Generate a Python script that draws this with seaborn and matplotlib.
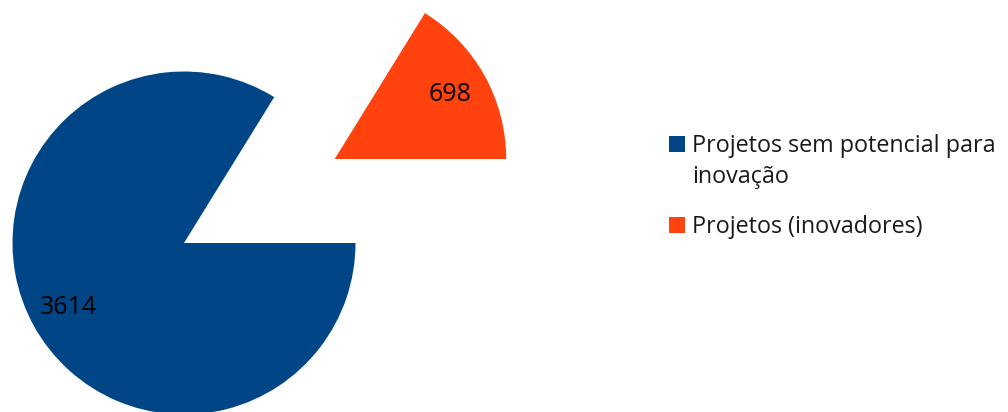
import matplotlib
matplotlib.use("Agg")
import matplotlib.pyplot as plt
from matplotlib.patches import Rectangle
import seaborn as sns

# Data
categories = ["Projetos (inovadores)", "Projetos sem potencial para\ninovação"]
values = [698, 3614]
colors = ["#ff420e", "#004586"]
legend_order = [1, 0]

sns.set_theme(style="white")
plt.rcParams["font.family"] = ["Open Sans", "DejaVu Sans"]

W, H, DPI = 1008, 412, 100
fig = plt.figure(figsize=(W / DPI, H / DPI), dpi=DPI)
ax = fig.add_axes([0, 0, 1, 1])

# pie geometry in pixels
R = 171.5
cx, cy = 184, 243  # centre of the unexploded slice (from top-left)

total = sum(values)
wedges, texts, autotexts = ax.pie(
    values,
    colors=colors,
    startangle=0,
    counterclock=True,
    explode=[1.006, 0],
    autopct=lambda p: f"{round(p * total / 100)}",
    pctdistance=0.77,
    textprops=dict(fontsize=18, color="black"),
    wedgeprops=dict(linewidth=0),
)
ax.set_aspect("auto")
ax.set_xlim(-cx / R, (W - cx) / R)
ax.set_ylim(-(H - cy) / R, cy / R)
ax.axis("off")

# legend drawn at fixed pixel positions
def fx(px):
    return px / W

def fy(py):
    return 1 - py / H

sq_x, sq_w = 669, 16
text_x = 692
line_gap = 31
baselines = [152, 233]
for row, idx in enumerate(legend_order):
    base = baselines[row]
    fig.patches.append(Rectangle((fx(sq_x), fy(base)), sq_w / W, 16 / H,
                                 transform=fig.transFigure, facecolor=colors[idx],
                                 edgecolor="none"))
    for k, line in enumerate(categories[idx].split("\n")):
        fig.text(fx(text_x), fy(base + k * line_gap), line, fontsize=16.8,
                 va="baseline", ha="left", color="#1a1a1a")

fig.savefig("out.png", dpi=DPI)
